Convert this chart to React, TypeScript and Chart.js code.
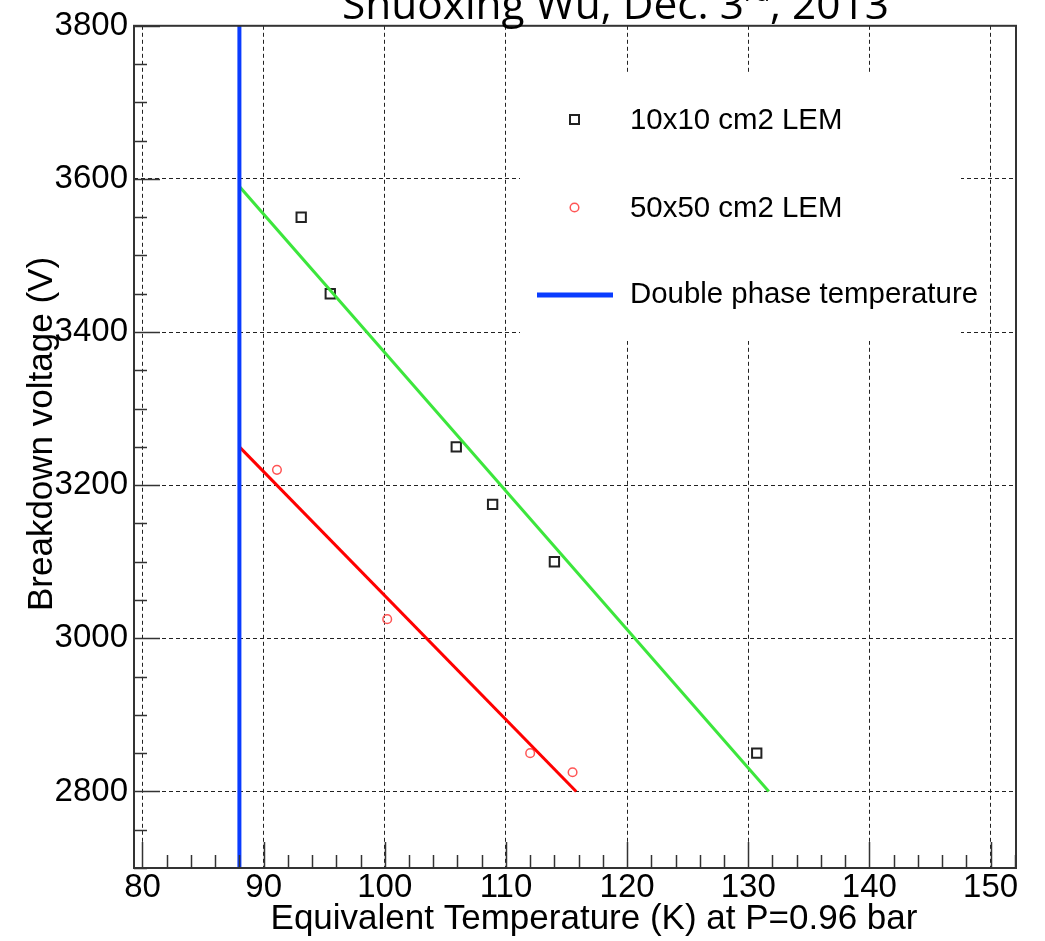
import React, { useEffect, useRef } from "react";
import { Chart, registerables } from "chart.js";

Chart.register(...registerables);

// ---- Text ----
const TITLE_MAIN = "Shuoxing Wu, Dec. 3";
const TITLE_SUP = "rd";
const TITLE_END = ", 2013";
const X_TITLE = "Equivalent Temperature (K) at P=0.96 bar";
const Y_TITLE = "Breakdown voltage (V)";
const LEGEND_LABELS = ["10x10 cm2 LEM", "50x50 cm2 LEM", "Double phase temperature"];

// ---- Axes ----
const X_MIN = 79.3;
const X_MAX = 152.1;
const Y_MIN = 2700;
const Y_MAX = 3800;
const X_MAJOR = 10;
const X_MINOR = 2;
const Y_MAJOR = 200;
const Y_MINOR = 50;
const X_TICK_LABELS = ["80", "90", "100", "110", "120", "130", "140", "150"];
const Y_TICK_LABELS = ["2800", "3000", "3200", "3400", "3600", "3800"];

// ---- Data ----
const lem10T = [93.1, 95.5, 105.9, 108.9, 114.0, 130.7];
const lem10V = [3550, 3450, 3250, 3175, 3100, 2850];
const lem50T = [91.1, 100.2, 112.0, 115.5];
const lem50V = [3220, 3025, 2850, 2825];
const fit10T = [88.0, 131.7];
const fit10V = [3590, 2800];
const fit50T = [88.0, 115.8];
const fit50V = [3250, 2800];
const doublePhaseT = [88.0, 88.0];
const doublePhaseV = [2700, 3800];

// ---- Colours ----
const BLUE = "#0a3cff";
const GREEN = "rgb(60,230,60)";
const RED = "rgb(255,0,0)";
const SQUARE = "#222";
const CIRCLE = "rgb(255,85,85)";
const FRAME = "#333";
const FONT = "'Liberation Sans', Arial, Helvetica, sans-serif";

const pts = (xs: number[], ys: number[]) => xs.map((x, i) => ({ x, y: ys[i] }));

const rootStyle = {
  id: "rootStyle",
  beforeDatasetsDraw(chart: any) {
    const ctx = chart.ctx;
    ctx.save();
    // legend box (white, no border)
    ctx.fillStyle = "#fff";
    ctx.fillRect(520, 73, 441, 268);
    ctx.fillStyle = "#000";
    ctx.font = `29.4px ${FONT}`;
    ctx.textAlign = "left";
    ctx.textBaseline = "alphabetic";
    // square marker
    ctx.strokeStyle = SQUARE;
    ctx.lineWidth = 2;
    ctx.strokeRect(570, 115, 9, 9);
    ctx.fillText(LEGEND_LABELS[0], 630, 129);
    // circle marker
    ctx.strokeStyle = CIRCLE;
    ctx.lineWidth = 1.5;
    ctx.beginPath();
    ctx.arc(574.5, 207.5, 4.3, 0, Math.PI * 2);
    ctx.stroke();
    ctx.fillText(LEGEND_LABELS[1], 630, 217);
    // blue line
    ctx.strokeStyle = BLUE;
    ctx.lineWidth = 5;
    ctx.beginPath();
    ctx.moveTo(537, 295);
    ctx.lineTo(613, 295);
    ctx.stroke();
    ctx.fillText(LEGEND_LABELS[2], 630, 303);
    ctx.restore();
  },
  afterDraw(chart: any) {
    const ctx = chart.ctx;
    const a = chart.chartArea;
    const xs = chart.scales.x;
    const ys = chart.scales.y;
    ctx.save();
    ctx.strokeStyle = FRAME;
    ctx.lineWidth = 1.5;
    // x ticks
    const xStart = Math.ceil(X_MIN / X_MINOR);
    const xEnd = Math.floor(X_MAX / X_MINOR);
    for (let i = xStart; i <= xEnd; i++) {
      const v = i * X_MINOR;
      const major = v % X_MAJOR === 0;
      const px = Math.round(xs.getPixelForValue(v)) + 0.5;
      ctx.beginPath();
      ctx.moveTo(px, a.bottom);
      ctx.lineTo(px, a.bottom - (major ? 26 : 13));
      ctx.stroke();
    }
    // y ticks
    const yStart = Math.ceil(Y_MIN / Y_MINOR);
    const yEnd = Math.floor(Y_MAX / Y_MINOR);
    for (let i = yStart; i <= yEnd; i++) {
      const v = i * Y_MINOR;
      const major = v % Y_MAJOR === 0;
      const py = Math.round(ys.getPixelForValue(v)) + 0.5;
      ctx.beginPath();
      ctx.moveTo(a.left, py);
      ctx.lineTo(a.left + (major ? 26 : 13), py);
      ctx.stroke();
    }
    // frame
    ctx.lineWidth = 2;
    ctx.strokeRect(a.left, a.top, a.right - a.left, a.bottom - a.top);

    // axis titles
    ctx.fillStyle = "#000";
    ctx.font = `35px ${FONT}`;
    ctx.textAlign = "center";
    ctx.textBaseline = "alphabetic";
    ctx.fillText(X_TITLE, 594, 929);
    ctx.save();
    ctx.translate(52, 434);
    ctx.rotate(-Math.PI / 2);
    ctx.fillText(Y_TITLE, 0, 0);
    ctx.restore();

    // top title (cut off by the page top)
    const fam = "'Open Sans', 'Noto Sans', sans-serif";
    ctx.textAlign = "left";
    ctx.font = `40px ${fam}`;
    const w1 = ctx.measureText(TITLE_MAIN).width;
    const w3 = ctx.measureText(TITLE_END).width;
    ctx.font = `24px ${fam}`;
    const w2 = ctx.measureText(TITLE_SUP).width;
    const scale = 547 / (w1 + w2 + w3);
    const size = 40 * scale;
    let x = 342;
    const base = 19;
    ctx.font = `${size}px ${fam}`;
    ctx.fillText(TITLE_MAIN, x, base);
    x += w1 * scale;
    ctx.font = `${size * 0.6}px ${fam}`;
    ctx.fillText(TITLE_SUP, x, base - size * 0.42);
    x += w2 * scale;
    ctx.font = `${size}px ${fam}`;
    ctx.fillText(TITLE_END, x, base);
    ctx.restore();
  },
};

export default function App() {
  const ref = useRef<HTMLCanvasElement>(null);
  useEffect(() => {
    if (!ref.current) return;
    Chart.defaults.font.family = FONT;
    const chart = new Chart(ref.current, {
      type: "scatter",
      data: {
        datasets: [
          {
            label: LEGEND_LABELS[2],
            data: pts(doublePhaseT, doublePhaseV),
            showLine: true,
            borderColor: BLUE,
            borderWidth: 4,
            pointRadius: 0,
          },
          {
            label: "fit 10x10",
            data: pts(fit10T, fit10V),
            showLine: true,
            borderColor: GREEN,
            borderWidth: 3,
            pointRadius: 0,
          },
          {
            label: "fit 50x50",
            data: pts(fit50T, fit50V),
            showLine: true,
            borderColor: RED,
            borderWidth: 3,
            pointRadius: 0,
          },
          {
            label: LEGEND_LABELS[0],
            data: pts(lem10T, lem10V),
            pointStyle: "rect",
            pointRadius: 6.6,
            borderColor: SQUARE,
            borderWidth: 2,
            backgroundColor: "rgba(0,0,0,0)",
          },
          {
            label: LEGEND_LABELS[1],
            data: pts(lem50T, lem50V),
            pointStyle: "circle",
            pointRadius: 4.3,
            borderColor: CIRCLE,
            borderWidth: 1.5,
            backgroundColor: "rgba(0,0,0,0)",
          },
        ],
      } as any,
      options: {
        animation: false,
        responsive: false,
        devicePixelRatio: 1,
        events: [],
        layout: { padding: { top: 21, right: 29, left: 0, bottom: 0 } },
        plugins: {
          legend: { display: false },
          tooltip: { enabled: false },
          title: { display: false },
        },
        scales: {
          x: {
            type: "linear",
            min: X_MIN,
            max: X_MAX,
            afterFit: (s: any) => {
              s.height = 73;
            },
            ticks: {
              stepSize: X_MAJOR,
              includeBounds: false,
              padding: 0,
              color: "#000",
              font: { size: 33, family: FONT },
              maxRotation: 0,
              autoSkip: false,
              callback: (v: any) => {
                const i = X_TICK_LABELS.indexOf(String(v));
                return i >= 0 ? X_TICK_LABELS[i] : "";
              },
            },
            grid: { color: "#222", lineWidth: 1, drawTicks: false },
            border: { display: false, dash: [4, 3] },
          },
          y: {
            type: "linear",
            min: Y_MIN,
            max: Y_MAX,
            afterFit: (s: any) => {
              s.width = 134;
            },
            ticks: {
              stepSize: Y_MAJOR,
              includeBounds: false,
              padding: 6,
              color: "#000",
              font: { size: 33, family: FONT },
              autoSkip: false,
              callback: (v: any) => {
                const i = Y_TICK_LABELS.indexOf(String(v));
                return i >= 0 ? Y_TICK_LABELS[i] : "";
              },
            },
            grid: { color: "#222", lineWidth: 1, drawTicks: false },
            border: { display: false, dash: [4, 3] },
          },
        },
      } as any,
      plugins: [rootStyle],
    });
    return () => chart.destroy();
  }, []);
  return (
    <div style={{ position: "absolute", left: 0, top: 0, width: 1045, height: 941, background: "#fff" }}>
      <canvas ref={ref} width={1045} height={941} style={{ display: "block", width: 1045, height: 941 }} />
    </div>
  );
}
